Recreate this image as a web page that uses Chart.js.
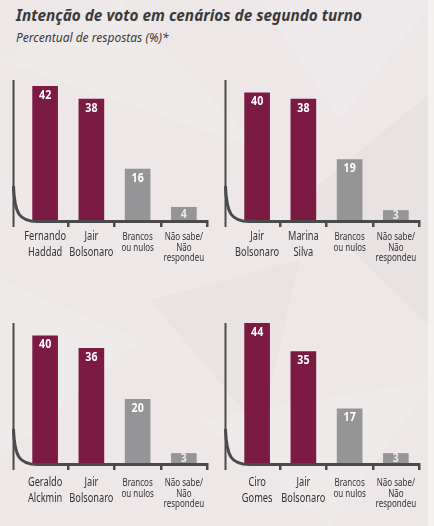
<!DOCTYPE html>
<html lang="pt">
<head>
<meta charset="utf-8">
<script src="https://cdn.jsdelivr.net/npm/chart.js@4/dist/chart.umd.min.js"></script>
<style>
  html, body { margin: 0; padding: 0; }
  body {
    width: 434px; height: 526px; position: relative; overflow: hidden;
    background: #ede7e8;
    font-family: "Noto Sans", sans-serif;
  }
  #bg { position: absolute; left: 0; top: 0; }
  .strip { position: absolute; left: 428px; top: 0; width: 6px; height: 526px; background: #f4f1f1; }
  h1 {
    position: absolute; left: 16px; top: 3px; margin: 0;
    font-size: 16.5px; font-weight: bold; font-style: italic; color: #3a3a3a; white-space: nowrap;
    transform: scaleX(0.93); transform-origin: 0 0;
  }
  h2 {
    position: absolute; left: 16px; top: 29px; margin: 0;
    font-size: 12px; font-weight: normal; font-style: italic; color: #3a3a3a; white-space: nowrap;
  }
  canvas { position: absolute; }
</style>
</head>
<body>
<svg id="bg" width="434" height="526">
  <polygon points="0,60 120,0 260,150" fill="#ffffff" opacity="0.12"/>
  <polygon points="260,0 434,0 340,120" fill="#ffffff" opacity="0.1"/>
  <polygon points="300,200 434,90 434,330" fill="#d9d1d3" opacity="0.22"/>
  <polygon points="0,280 140,340 0,460" fill="#ffffff" opacity="0.12"/>
  <polygon points="150,300 300,260 260,430" fill="#ddd5d7" opacity="0.2"/>
  <polygon points="200,420 434,380 330,526" fill="#ffffff" opacity="0.12"/>
</svg>
<div class="strip"></div>
<h1>Intenção de voto em cenários de segundo turno</h1>
<h2>Percentual de respostas (%)*</h2>
<canvas id="c1" width="217" height="220" style="left:0;top:60px"></canvas>
<canvas id="c2" width="217" height="220" style="left:217px;top:60px"></canvas>
<canvas id="c3" width="217" height="220" style="left:0;top:303px"></canvas>
<canvas id="c4" width="217" height="220" style="left:217px;top:303px"></canvas>
<script>
// values, one scenario per panel
const haddadLabels = [["Fernando", "Haddad"], ["Jair", "Bolsonaro"], ["Brancos", "ou nulos"], ["Não sabe/", "Não", "respondeu"]];
const haddadValues = [42, 38, 16, 4];

const marinaLabels = [["Jair", "Bolsonaro"], ["Marina", "Silva"], ["Brancos", "ou nulos"], ["Não sabe/", "Não", "respondeu"]];
const marinaValues = [40, 38, 19, 3];

const alckminLabels = [["Geraldo", "Alckmin"], ["Jair", "Bolsonaro"], ["Brancos", "ou nulos"], ["Não sabe/", "Não", "respondeu"]];
const alckminValues = [40, 36, 20, 3];

const ciroLabels = [["Ciro", "Gomes"], ["Jair", "Bolsonaro"], ["Brancos", "ou nulos"], ["Não sabe/", "Não", "respondeu"]];
const ciroValues = [44, 35, 17, 3];

const yMax = 44;

const FONT = '"Noto Sans", sans-serif';
const MAROON = "#7b1b44";
const GRAY = "#959496";
const AXIS = "#4a4a4a";
const TEXT = "#333333";

// no condensed face is installed, so text on the canvas is squeezed by hand
const squeezedText = (ctx, text, x, y, sx) => {
  ctx.save();
  ctx.translate(x, y);
  ctx.scale(sx, 1);
  ctx.fillText(text, 0, 0);
  ctx.restore();
};

// vertical line + curved elbow + horizontal base line
const curvedAxis = {
  id: "curvedAxis",
  afterDatasetsDraw(chart) {
    const { ctx, chartArea: { left, right, top, bottom } } = chart;
    const vx = left - 8.5;
    const ay = bottom + 1.5;
    ctx.save();
    ctx.strokeStyle = AXIS;
    ctx.lineWidth = 2;
    ctx.beginPath();
    ctx.moveTo(vx, top);
    ctx.lineTo(vx, bottom + 7);
    ctx.stroke();
    ctx.lineWidth = 3;
    ctx.beginPath();
    ctx.moveTo(vx, bottom - 34);
    ctx.bezierCurveTo(vx + 1, bottom - 6, vx + 6, ay, vx + 24, ay);
    ctx.lineTo(right + 1, ay);
    ctx.stroke();
    ctx.restore();
  },
};

// numbers written inside the top of each bar
const barValues = {
  id: "barValues",
  afterDatasetsDraw(chart) {
    const { ctx } = chart;
    const values = chart.data.datasets[0].data;
    chart.getDatasetMeta(0).data.forEach((bar, i) => {
      const h = bar.base - bar.y;
      ctx.save();
      ctx.font = `bold 12.5px ${FONT}`;
      ctx.textAlign = "center";
      ctx.textBaseline = "middle";
      ctx.fillStyle = h < 20 ? "rgba(255,255,255,0.8)" : "#ffffff";
      squeezedText(ctx, String(values[i]), bar.x, Math.min(bar.y + 9, bar.y + h / 2 + 0.5), 0.85);
      ctx.restore();
    });
  },
};

// category names under the axis, placed at the x scale's tick pixels
const categoryLabels = {
  id: "categoryLabels",
  afterDraw(chart, args, opts) {
    const { ctx, chartArea } = chart;
    const scale = chart.scales.x;
    ctx.save();
    ctx.fillStyle = TEXT;
    ctx.textAlign = "center";
    ctx.textBaseline = "middle";
    chart.data.labels.forEach((lines, i) => {
      const big = i < 2;
      const x = scale.getPixelForTick(i);
      const y0 = chartArea.bottom + opts.offset + (big ? 0 : 0.5);
      ctx.font = `${big ? 12 : 10}px ${FONT}`;
      lines.forEach((line, j) => {
        squeezedText(ctx, line, x, y0 + j * (big ? 16 : 10.5), big ? 0.77 : 0.8);
      });
    });
    ctx.restore();
  },
};

const makeChart = (id, labels, values, padLeft, padRight, labelOffset) => {
  new Chart(document.getElementById(id), {
    type: "bar",
    data: {
      labels: labels,
      datasets: [
        {
          data: values,
          backgroundColor: values.map((v, i) => (i < 2 ? MAROON : GRAY)),
          barThickness: 25,
        },
      ],
    },
    options: {
      responsive: false,
      animation: false,
      layout: { padding: { left: padLeft, right: padRight, top: 20, bottom: 0 } },
      plugins: {
        legend: { display: false },
        tooltip: { enabled: false },
        categoryLabels: { offset: labelOffset },
      },
      scales: {
        y: { display: false, min: 0, max: yMax },
        x: {
          offset: true,
          border: { display: false },
          grid: {
            offset: true,
            drawOnChartArea: false,
            tickLength: 7,
            lineWidth: 2.5,
            color: (c) => (c.index === 0 ? "rgba(0,0,0,0)" : AXIS),
          },
          ticks: { display: false },
          afterFit: (scale) => {
            scale.height = 60;
          },
        },
      },
    },
    plugins: [curvedAxis, barValues, categoryLabels],
  });
};

makeChart("c1", haddadLabels, haddadValues, 22, 10, 17);
makeChart("c2", marinaLabels, marinaValues, 17, 15, 17);
makeChart("c3", alckminLabels, alckminValues, 22, 10, 20);
makeChart("c4", ciroLabels, ciroValues, 17, 15, 20);
</script>
</body>
</html>
